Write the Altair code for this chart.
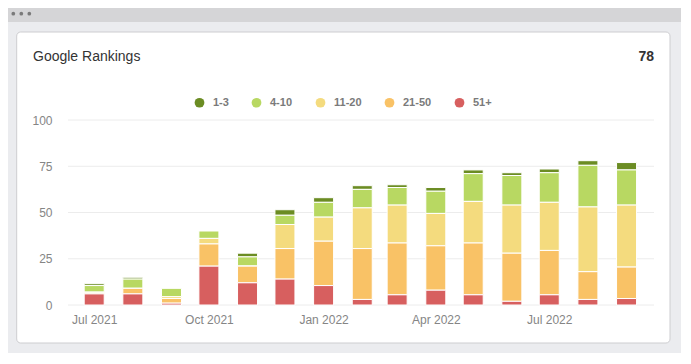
import altair as alt
import pandas as pd

# ---- data ----
months = ["2021-07-01", "2021-08-01", "2021-09-01", "2021-10-01", "2021-11-01",
          "2021-12-01", "2022-01-01", "2022-02-01", "2022-03-01", "2022-04-01",
          "2022-05-01", "2022-06-01", "2022-07-01", "2022-08-01", "2022-09-01"]
rank_1_3 = [1, 1, 0, 0, 2, 3, 2.5, 2, 1.5, 2, 2, 1.5, 2, 2.5, 4]
rank_4_10 = [3.5, 5, 4.5, 4, 5, 5, 8, 10, 9.5, 12, 15, 16, 16, 22.5, 19]
rank_11_20 = [0.5, 0, 1, 3, 0, 13, 13, 22, 20.5, 17.5, 22.5, 26, 26, 35, 33.5]
rank_21_50 = [0.5, 3, 2.5, 12, 9, 16.5, 24, 27.5, 28, 24, 28, 26, 24, 15, 17]
rank_51 = [6, 6, 1, 21, 12, 14, 10.5, 3, 5.5, 8, 5.5, 2, 5.5, 3, 3.5]

groups = ["1-3", "4-10", "11-20", "21-50", "51+"]
colors = ["#6b8c23", "#b8d862", "#f4db7e", "#f9c266", "#d75f5f"]
y_ticks = [0, 25, 50, 75, 100]
title_text = "Google Rankings"
header_total = "78"

series = {"1-3": rank_1_3, "4-10": rank_4_10, "11-20": rank_11_20,
          "21-50": rank_21_50, "51+": rank_51}
rows = []
for g in groups:
    for m, v in zip(months, series[g]):
        rows.append({"month": m, "group": g, "count": v,
                     "stack": len(groups) - groups.index(g)})
df = pd.DataFrame(rows)
grid_df = pd.DataFrame({"v": y_ticks})
one = pd.DataFrame({"a": [0]})

# ---- layout (plot area) ----
W, H = 586, 185
FONT = "Liberation Sans"

yscale = alt.Scale(domain=[0, 100], nice=False)
yaxis = alt.Axis(values=y_ticks, grid=False, domain=False, ticks=False, tickSize=0,
                 labelPadding=16, labelColor="#858585", labelFontSize=12,
                 labelFont=FONT, title=None, zindex=1)

# decorations: window frame and card
topbar = alt.Chart(one).mark_rect(color="#d5d5d7").encode(
    x=alt.value(-62), x2=alt.value(615), y=alt.value(-114), y2=alt.value(-98))
dot_layers = [
    alt.Chart(one).mark_point(filled=True, color="#7a7a7a", size=14, opacity=1).encode(
        x=alt.value(px), y=alt.value(-106.3))
    for px in (-54.7, -46.7, -38.7)
]
card = alt.Chart(one).mark_rect(color="white", stroke="#cdcdd0", strokeWidth=1,
                                cornerRadius=4).encode(
    x=alt.value(-51.3), x2=alt.value(602), y=alt.value(-88), y2=alt.value(223))

grid = alt.Chart(grid_df).mark_rule(color="#ececec", strokeWidth=1).encode(
    y=alt.Y("v:Q", scale=yscale, axis=yaxis),
    x=alt.value(0), x2=alt.value(W))

bars = alt.Chart(df).mark_bar(width=20, stroke="white", strokeWidth=1).encode(
    x=alt.X("month:T",
            scale=alt.Scale(type="utc",
                            domain=[alt.DateTime(year=2021, month=6, date=14, utc=True),
                                    alt.DateTime(year=2022, month=9, date=19, utc=True)]),
            axis=alt.Axis(values=[alt.DateTime(year=2021, month=7, date=1, utc=True),
                                  alt.DateTime(year=2021, month=10, date=1, utc=True),
                                  alt.DateTime(year=2022, month=1, date=1, utc=True),
                                  alt.DateTime(year=2022, month=4, date=1, utc=True),
                                  alt.DateTime(year=2022, month=7, date=1, utc=True)],
                          labelExpr="utcFormat(datum.value, '%b %Y')",
                          grid=False, domain=False,
                          ticks=False, tickSize=0, labelPadding=9,
                          labelColor="#858585", labelFontSize=12, labelFont=FONT,
                          title=None, zindex=1)),
    y=alt.Y("sum(count):Q", scale=yscale, axis=yaxis, stack="zero"),
    color=alt.Color("group:N",
                    scale=alt.Scale(domain=groups, range=colors),
                    legend=alt.Legend(orient="none", legendX=126, legendY=-23,
                                      direction="horizontal", title=None,
                                      symbolType="circle", symbolSize=95,
                                      symbolStrokeWidth=0, symbolOpacity=1,
                                      labelFont=FONT, labelFontWeight="bold",
                                      labelFontSize=11, labelColor="#7a7a7a",
                                      labelOffset=8, columnPadding=22, zindex=1)),
    order=alt.Order("stack:Q", sort="ascending"))

title = alt.Chart(one).mark_text(text=title_text, align="left", baseline="middle",
                                 font=FONT, fontSize=14, color="#333333").encode(
    x=alt.value(-35), y=alt.value(-63))
total = alt.Chart(one).mark_text(text=header_total, align="right", baseline="middle",
                                 font=FONT, fontSize=14, fontWeight="bold",
                                 color="#333333").encode(
    x=alt.value(586), y=alt.value(-63))

chart = alt.layer(topbar, *dot_layers, card, grid, bars, title, total).properties(
    width=W, height=H,
    autosize=alt.AutoSizeParams(type="none"),
    padding={"left": 60, "top": 112, "right": 27, "bottom": 48},
    background="#ebecef",
).configure_view(stroke=None)

chart.save("out.html", embed_options={"renderer": "svg", "actions": False})
